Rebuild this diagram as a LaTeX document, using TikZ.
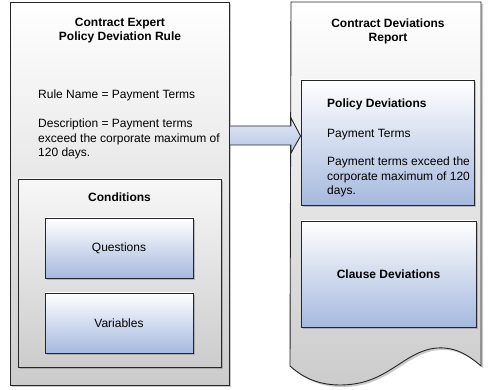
\documentclass[tikz,border=0pt]{standalone}
\usepackage{fontspec}
\setmainfont{Liberation Sans}
\usetikzlibrary{shadows}
\definecolor{boxgray}{RGB}{204,204,204}
\definecolor{boxblue}{RGB}{166,185,222}
\definecolor{lightblue}{RGB}{225,232,246}
\tikzset{
  x=1pt, y=-1pt,
  every node/.style={font=\fontsize{12}{14.5}\selectfont, inner sep=0pt},
  shad/.style={drop shadow={shadow xshift=2pt, shadow yshift=-2pt, opacity=0.35, fill=black!60}},
  graybox/.style={draw=black!85, line width=0.9pt, top color=white, bottom color=boxgray, shad},
  bluebox/.style={draw=black!85, line width=0.9pt, top color=white, bottom color=boxblue, shad},
  plain/.style={align=left, anchor=north west},
  title/.style={align=center, font=\fontsize{12}{14}\selectfont\bfseries},
}
\begin{document}
\begin{tikzpicture}
\useasboundingbox (0,0) rectangle (493,390);
% left rule box
\node[graybox, minimum width=219pt, minimum height=383pt] (rule) at (119.5,193.5) {};
\node[graybox, top color=white!97!black, minimum width=203pt, minimum height=188pt] (cond) at (119.5,273) {};
\node[bluebox, minimum width=148pt, minimum height=60pt] (quest) at (119,248) {Questions};
\node[bluebox, minimum width=148pt, minimum height=60pt] (vars) at (119,323) {Variables};
\node[title] (ruletitle) at (120,31) {Contract Expert\\Policy Deviation Rule};
\node[title] (condtitle) at (119.5,197) {Conditions};
\node[plain] (rulename) at (38,90) {Rule Name = Payment Terms};
\node[plain] (desc) at (38,119) {Description = Payment terms\\exceed the corporate maximum of\\120 days.};
% right report document
\path[draw=black!85, line width=0.9pt, top color=white, bottom color=boxgray, shad]
  (291,2) -- (481,2) -- (481,366)
  .. controls (465,352) and (450,345) .. (430,349)
  .. controls (400,356) and (385,385) .. (340,385)
  .. controls (315,385) and (300,375) .. (290,366) -- cycle;
\node[title] (reptitle) at (388,31) {Contract Deviations\\Report};
\node[bluebox, minimum width=173pt, minimum height=125pt] (policy) at (387.5,142.5) {};
\node[bluebox, minimum width=175pt, minimum height=106pt] (clause) at (388.5,274) {\bfseries Clause Deviations};
\node[plain, font=\fontsize{12}{14.5}\selectfont\bfseries] (poltitle) at (327,99) {Policy Deviations};
\node[plain] (payterms) at (327,129) {Payment Terms};
\node[plain] (paydesc) at (327,157) {Payment terms exceed the\\corporate maximum of 120\\days.};
% block arrow
\draw[draw=black!85, line width=0.9pt, top color=lightblue, bottom color=boxblue!80!white]
  (rule.east |- 0,126) -- (291,126) -- (291,118) -- (policy.west |- 0,136) -- (291,153) -- (291,145) -- (rule.east |- 0,145) -- cycle;
\end{tikzpicture}
\end{document}
